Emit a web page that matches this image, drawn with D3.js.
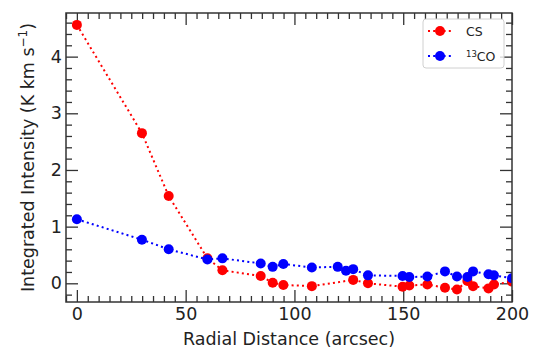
<!DOCTYPE html>
<html>
<head>
<meta charset="utf-8">
<script src="https://cdn.jsdelivr.net/npm/d3@7"></script>
<style>
  body { margin: 0; background: #fff; }
  svg text { font-family: "DejaVu Sans", sans-serif; fill: #222; }
  .tick line { stroke: #333; stroke-width: 1.3; }
  .domain { display: none; }
</style>
</head>
<body>
<svg id="chart" width="534" height="349"></svg>
<script>
// radial bins (arcsec) and integrated intensities
var csX  = [0, 29.9, 42.2, 60, 66.9, 84.5, 90, 94.9, 108, 127, 133.8, 149.7, 152.8, 161.1, 169.2, 174.7, 179.5, 182.1, 189.2, 191.7, 200];
var csY  = [4.56, 2.65, 1.54, 0.44, 0.23, 0.13, 0.01, -0.03, -0.05, 0.06, 0.0, -0.06, -0.04, -0.02, -0.08, -0.11, 0.04, -0.05, -0.09, -0.02, 0.03];
var coX  = [0, 29.9, 42.2, 60, 66.9, 84.5, 90, 94.9, 108, 119.9, 123.7, 127, 133.8, 149.7, 152.8, 161.1, 169.2, 174.7, 179.5, 182.1, 189.2, 191.7, 200];
var coY  = [1.13, 0.77, 0.6, 0.42, 0.44, 0.35, 0.29, 0.34, 0.28, 0.29, 0.22, 0.25, 0.14, 0.13, 0.11, 0.12, 0.21, 0.12, 0.11, 0.21, 0.16, 0.14, 0.09];
var xTicks = [0, 50, 100, 150, 200];
var yTicks = [0, 1, 2, 3, 4];

var LEFT = 66, RIGHT = 512, TOP = 13, BOTTOM = 302;
var FONT = 17.5;

var svg = d3.select("#chart");

var x = d3.scaleLinear().domain([-5, 200]).range([LEFT, RIGHT]);
var y = d3.scaleLinear().domain([-0.33, 4.77]).range([BOTTOM, TOP]);

var xMinor = d3.range(-5, 201, 5).filter(function(v) { return v % 50 !== 0; });
var yMinor = d3.range(-6, 24).map(function(i) { return +(i * 0.2).toFixed(1); })
  .filter(function(v) { return v > -0.33 && v < 4.77 && Math.abs(v - Math.round(v)) > 0.01; });

function addAxis(axis, tx, ty, labels) {
  var g = svg.append("g")
    .attr("transform", "translate(" + tx + "," + ty + ")")
    .call(axis);
  g.selectAll("text").style("font-size", FONT + "px").style("fill", "#222");
  if (!labels) g.selectAll("text").remove();
  return g;
}

// major + minor ticks on all four sides, pointing inward
addAxis(d3.axisBottom(x).tickValues(xTicks).tickFormat(d3.format("d")).tickSize(-12).tickSizeOuter(0).tickPadding(6), 0, BOTTOM, true);
addAxis(d3.axisBottom(x).tickValues(xMinor).tickSize(-6).tickSizeOuter(0).tickFormat(""), 0, BOTTOM, false);
addAxis(d3.axisTop(x).tickValues(xTicks).tickSize(-12).tickSizeOuter(0), 0, TOP, false);
addAxis(d3.axisTop(x).tickValues(xMinor).tickSize(-6).tickSizeOuter(0), 0, TOP, false);
addAxis(d3.axisLeft(y).tickValues(yTicks).tickFormat(d3.format("d")).tickSize(-12).tickSizeOuter(0).tickPadding(4), LEFT, 0, true);
addAxis(d3.axisLeft(y).tickValues(yMinor).tickSize(-6).tickSizeOuter(0).tickFormat(""), LEFT, 0, false);
addAxis(d3.axisRight(y).tickValues(yTicks).tickSize(-12).tickSizeOuter(0), RIGHT, 0, false);
addAxis(d3.axisRight(y).tickValues(yMinor).tickSize(-6).tickSizeOuter(0), RIGHT, 0, false);

svg.append("defs").append("clipPath").attr("id", "plotClip")
  .append("rect")
  .attr("x", LEFT).attr("y", TOP)
  .attr("width", RIGHT - LEFT).attr("height", BOTTOM - TOP);

var plot = svg.append("g").attr("clip-path", "url(#plotClip)");

var series = [
  {name: "CS", xs: csX, ys: csY, color: "#ff0000"},
  {name: "13CO", xs: coX, ys: coY, color: "#0000ff"}
];

var line = d3.line()
  .x(function(d) { return x(d[0]); })
  .y(function(d) { return y(d[1]); });

series.forEach(function(s) {
  var pts = d3.zip(s.xs, s.ys);
  var g = plot.append("g");
  g.append("path")
    .datum(pts)
    .attr("d", line)
    .attr("fill", "none")
    .attr("stroke", s.color)
    .attr("stroke-width", 2)
    .attr("stroke-dasharray", "2 3.2");
  g.selectAll("circle")
    .data(pts)
    .enter().append("circle")
    .attr("cx", function(d) { return x(d[0]); })
    .attr("cy", function(d) { return y(d[1]); })
    .attr("r", 5)
    .attr("fill", s.color);
});

// frame
svg.append("rect")
  .attr("x", LEFT).attr("y", TOP)
  .attr("width", RIGHT - LEFT).attr("height", BOTTOM - TOP)
  .attr("fill", "none")
  .attr("stroke", "#333")
  .attr("stroke-width", 1.5);

// axis titles
svg.append("text")
  .attr("x", (LEFT + RIGHT) / 2)
  .attr("y", 345)
  .attr("text-anchor", "middle")
  .style("font-size", FONT + "px")
  .text("Radial Distance (arcsec)");

var yl = svg.append("text")
  .attr("transform", "translate(34," + ((TOP + BOTTOM) / 2) + ") rotate(-90)")
  .attr("text-anchor", "middle")
  .style("font-size", FONT + "px");
yl.append("tspan").text("Integrated Intensity (K km s");
yl.append("tspan").attr("dy", -7).style("font-size", "12px").text("\u22121");
yl.append("tspan").attr("dy", 7).text(")");

// legend
var legend = svg.append("g");
legend.append("rect")
  .attr("x", 423).attr("y", 19)
  .attr("width", 81).attr("height", 49)
  .attr("rx", 3)
  .attr("fill", "rgba(255,255,255,0.8)")
  .attr("stroke", "#d0d0d0")
  .attr("stroke-width", 1);

series.forEach(function(s, i) {
  var ly = 31 + i * 25;
  legend.append("line")
    .attr("x1", 428).attr("x2", 452)
    .attr("y1", ly).attr("y2", ly)
    .attr("stroke", s.color)
    .attr("stroke-width", 2)
    .attr("stroke-dasharray", "2 3.2");
  legend.append("circle")
    .attr("cx", 440).attr("cy", ly).attr("r", 5)
    .attr("fill", s.color);
  var t = legend.append("text")
    .attr("x", 466).attr("y", ly + 4.5)
    .style("font-size", "12.5px");
  if (s.name === "13CO") {
    t.append("tspan").attr("dy", -4).style("font-size", "8.5px").text("13");
    t.append("tspan").attr("dy", 4).text("CO");
  } else {
    t.text(s.name);
  }
});
</script>
</body>
</html>
